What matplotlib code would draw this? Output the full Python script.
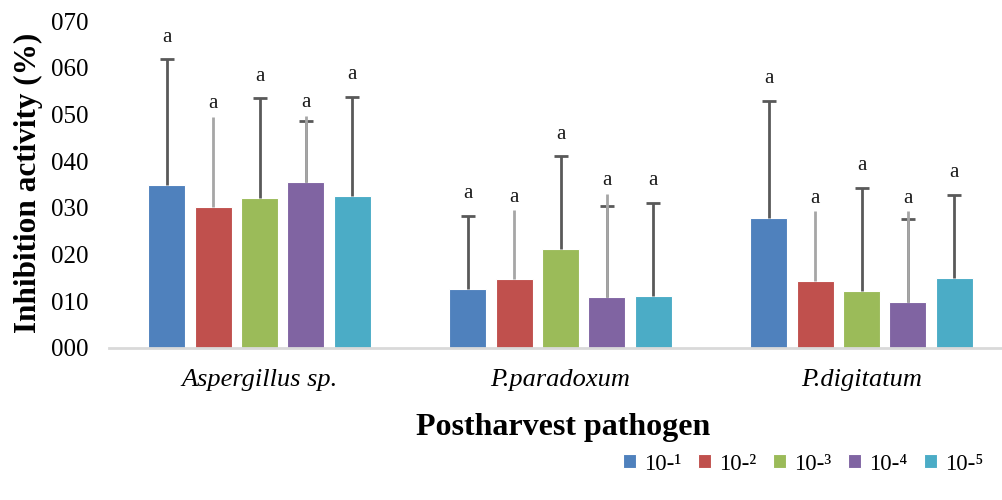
import matplotlib
matplotlib.use('Agg')
import matplotlib.pyplot as plt
import numpy as np

# Data
pathogens = ['Aspergillus sp.', 'P.paradoxum', 'P.digitatum']
dilutions = ['10-¹', '10-²', '10-³', '10-⁴', '10-⁵']
colors = ['#4F81BD', '#C0504D', '#9BBB59', '#8064A2', '#4BACC6']

mean_1 = [34.8, 12.6, 27.7]
mean_2 = [30.2, 14.8, 14.2]
mean_3 = [32.1, 21.2, 12.1]
mean_4 = [35.5, 10.9, 9.8]
mean_5 = [32.4, 11.1, 15.0]

# upper error drawn dark with cap (None = not drawn)
dark_err_1 = [27.0, 15.6, 25.2]
dark_err_2 = None
dark_err_3 = [21.3, 19.8, 22.1]
dark_err_4 = [13.1, 19.5, 17.7]
dark_err_5 = [21.3, 20.0, 17.7]

# upper error drawn as light grey line without cap
light_err_1 = None
light_err_2 = [19.3, 14.6, 15.0]
light_err_3 = None
light_err_4 = [14.2, 22.0, 19.4]
light_err_5 = None

letters = ['a', 'a', 'a']

means = [mean_1, mean_2, mean_3, mean_4, mean_5]
dark_errs = [dark_err_1, dark_err_2, dark_err_3, dark_err_4, dark_err_5]
light_errs = [light_err_1, light_err_2, light_err_3, light_err_4, light_err_5]

serif = ['Liberation Serif', 'DejaVu Serif']
plt.rcParams['font.family'] = serif

fig = plt.figure(figsize=(10.03, 5.0), dpi=100)
ax = fig.add_axes([0.1087, 0.3046, 0.9003, 0.6534])

x = np.arange(len(pathogens))
step = 0.154
width = 0.123

for i, (lab, col) in enumerate(zip(dilutions, colors)):
    xs = x + (i - 2) * step
    m = np.array(means[i])
    ax.bar(xs, m, width=width, color=col, edgecolor='white',
           linewidth=0.8, label=lab, zorder=2)
    tops = [(v, 0) for v in m]
    # only the upper half of each error bar is shown
    if dark_errs[i] is not None:
        up = m + np.array(dark_errs[i])
        ax.vlines(xs, m, up, colors='#595959', linewidth=2.0, zorder=3)
        ax.plot(xs, up, ls='none', marker='_', ms=10, mew=2.0,
                color='#595959', zorder=3)
        tops = [max(t, (u, 16)) for t, u in zip(tops, up)]
    if light_errs[i] is not None:
        up = m + np.array(light_errs[i])
        ax.vlines(xs, m, up, colors='#A6A6A6', linewidth=2.0, zorder=4)
        tops = [max(t, (u, 9.5)) for t, u in zip(tops, up)]
    for j in range(len(pathogens)):
        ax.annotate(letters[j], (xs[j], tops[j][0]), xytext=(0, tops[j][1]),
                    textcoords='offset points', ha='center', va='center',
                    fontsize=15, color='#1a1a1a')

ax.set_xlim(-0.5, 2.5)
ax.set_ylim(0, 70)
ax.set_yticks(np.arange(0, 71, 10))
ax.set_yticklabels(['%03d' % v for v in range(0, 71, 10)], fontsize=18)
ax.set_xticks(x)
ax.set_xticklabels(pathogens, fontsize=19, style='italic')
ax.tick_params(axis='y', length=0, pad=15)
ax.tick_params(axis='x', length=0, pad=15)

for s in ['top', 'right', 'left']:
    ax.spines[s].set_visible(False)
ax.spines['bottom'].set_color('#D9D9D9')
ax.spines['bottom'].set_linewidth(2)

ax.set_ylabel('Inhibition activity (%)', fontsize=22.5, fontweight='bold')
ax.yaxis.set_label_coords(-0.073, 0.504)
ax.set_xlabel('Postharvest pathogen', fontsize=23, fontweight='bold')
ax.xaxis.set_label_coords(0.503, -0.2)

fig.legend(loc='center', bbox_to_anchor=(0.801, 0.072), ncol=5, frameon=False,
           fontsize=16.5, handlelength=0.55, handleheight=0.55, handletextpad=0.35,
           columnspacing=0.75)

plt.savefig('out.png', dpi=100)
